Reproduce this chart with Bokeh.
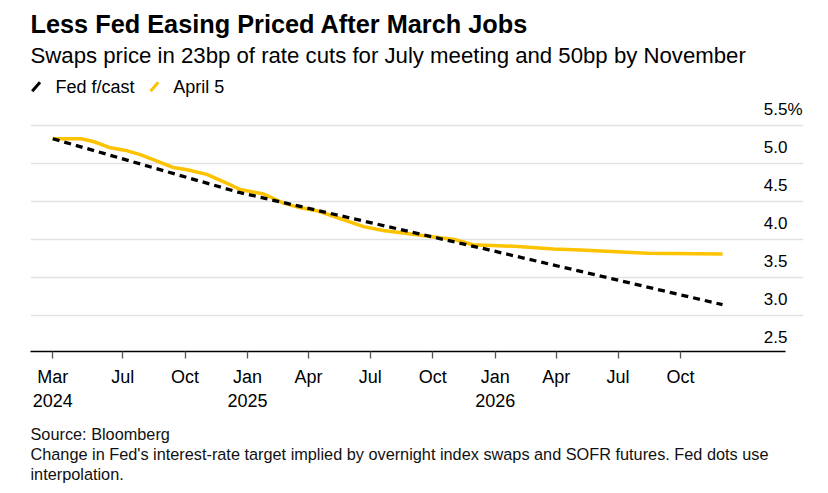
import pandas as pd
from bokeh.plotting import figure
from bokeh.core.properties import value
from bokeh.models import (Range1d, FixedTicker, Grid, Label, LabelSet, Title, Arrow,
                          ColumnDataSource)
from bokeh.embed import file_html
from bokeh.resources import INLINE

# ---------------- data ----------------
title_text = "Less Fed Easing Priced After March Jobs"
subtitle_text = "Swaps price in 23bp of rate cuts for July meeting and 50bp by November"
source_text = "Source: Bloomberg"
note_lines = [
    "Change in Fed's interest-rate target implied by overnight index swaps and SOFR futures. Fed dots use",
    "interpolation.",
]

fed_dates = ["2024-03-20", "2024-12-18", "2025-12-17", "2026-12-02"]
fed_values = [5.33, 4.625, 3.875, 3.14]

april5_dates = [
    "2024-03-20", "2024-05-01", "2024-05-20", "2024-06-13", "2024-07-08",
    "2024-07-27", "2024-08-16", "2024-09-14", "2024-10-04", "2024-11-02",
    "2024-12-02", "2024-12-21", "2025-01-25", "2025-02-23", "2025-03-15",
    "2025-04-13", "2025-05-13", "2025-06-21", "2025-07-20", "2025-08-24",
    "2025-09-27", "2025-11-02", "2025-11-29", "2026-01-29", "2026-03-28",
    "2026-05-07", "2026-08-13", "2026-12-02",
]
april5_values = [
    5.33, 5.33, 5.29, 5.21, 5.17,
    5.12, 5.05, 4.95, 4.92, 4.86,
    4.74, 4.66, 4.60, 4.48, 4.43,
    4.38, 4.29, 4.17, 4.12, 4.08,
    4.04, 4.00, 3.93, 3.91, 3.875,
    3.86, 3.82, 3.81,
]

x_tick_dates = ["2024-03-20", "2024-07-01", "2024-10-01", "2025-01-01",
                "2025-04-01", "2025-07-01", "2025-10-01", "2026-01-01",
                "2026-04-01", "2026-07-01", "2026-10-01"]
x_tick_labels = ["Mar\n2024", "Jul", "Oct", "Jan\n2025", "Apr", "Jul", "Oct",
                 "Jan\n2026", "Apr", "Jul", "Oct"]

y_ticks = [2.5, 3.0, 3.5, 4.0, 4.5, 5.0, 5.5]
y_tick_labels = ["2.5", "3.0", "3.5", "4.0", "4.5", "5.0", "5.5"]
y_unit = "%"

series_names = ["Fed f/cast", "April 5"]

# ---------------- styles ----------------
FONT = "Liberation Sans"
YELLOW = "#FDC300"
BLACK = "#000000"
series_colors = [BLACK, YELLOW]

X_START = pd.Timestamp("2024-02-16 05:00")
X_END = pd.Timestamp("2027-03-31 07:00")
AXIS_END = pd.Timestamp("2027-03-04 19:00")

fed_src = ColumnDataSource(dict(x=pd.to_datetime(fed_dates), y=fed_values))
apr_src = ColumnDataSource(dict(x=pd.to_datetime(april5_dates), y=april5_values))

p = figure(width=820, height=492, x_axis_type="datetime", y_axis_location=None,
           output_backend="svg", toolbar_location=None,
           x_range=Range1d(X_START, X_END),
           y_range=Range1d(2.522, 7.154),
           min_border_left=30, min_border_right=17, min_border_top=0, min_border_bottom=140)
p.outline_line_color = None
p.background_fill_color = "white"
p.border_fill_color = "white"
p.xgrid.visible = False
for g in p.ygrid:
    g.visible = False

grid = Grid(dimension=1, ticker=FixedTicker(ticks=y_ticks),
            grid_line_color="#e2e2e2", grid_line_width=1.5)
p.add_layout(grid)

# x axis
tick_ms = [pd.Timestamp(d).value / 1e6 for d in x_tick_dates]
ax = p.xaxis[0]
ax.ticker = FixedTicker(ticks=tick_ms)
ax.major_label_overrides = {t: lab for t, lab in zip(tick_ms, x_tick_labels)}
ax.bounds = (X_START.value / 1e6, AXIS_END.value / 1e6)
ax.axis_line_color = BLACK
ax.axis_line_width = 1.5
ax.major_tick_line_color = "#555555"
ax.major_tick_line_width = 1.3
ax.major_tick_out = 7
ax.major_tick_in = 0
ax.minor_tick_out = 0
ax.minor_tick_in = 0
ax.major_label_standoff = 8
ax.major_label_text_font = FONT
ax.major_label_text_font_size = "18px"
ax.major_label_text_color = BLACK

# lines
p.line("x", "y", source=apr_src, line_color=YELLOW, line_width=3.5, line_join="round")
p.line("x", "y", source=fed_src, line_color=BLACK, line_width=3.3, line_dash="7 5")

# legend: slanted swatches + labels (screen units relative to frame, y up)
legend_swatch_x = [1.7, 120.0]
legend_text_x = [25.0, 142.7]
for name, col, sx, tx in zip(series_names, series_colors, legend_swatch_x, legend_text_x):
    p.add_layout(Arrow(x_start=sx, y_start=260.3, x_end=sx + 7.8, y_end=269.3,
                       start_units="screen", end_units="screen", start=None, end=None,
                       line_color=col, line_width=3))
    p.add_layout(Label(x=tx, y=264.3, x_units="screen", y_units="screen", text=name,
                       text_font=FONT, text_font_size="18px", text_color=BLACK,
                       text_baseline="alphabetic"))

# y tick labels inside plot on the right
ylab_src = ColumnDataSource(dict(y=[v + 0.217 for v in y_ticks], text=y_tick_labels))
ylabels = LabelSet(x=757, x_units="screen", y="y", text="text", source=ylab_src,
                   text_align="right", text_baseline="middle",
                   text_font=value(FONT), text_font_size="17px", text_color=BLACK)
p.add_layout(ylabels)
p.add_layout(Label(x=757, x_units="screen", y=y_ticks[-1] + 0.217, text=y_unit,
                   text_align="left", text_baseline="middle",
                   text_font=FONT, text_font_size="17px", text_color=BLACK))

# title and subtitle (screen units relative to plot frame, y up)
p.add_layout(Label(x=0, y=327.7, x_units="screen", y_units="screen", text=title_text,
                   text_font=FONT, text_font_style="bold", text_font_size="25.3px",
                   text_color=BLACK, text_baseline="alphabetic"))
p.add_layout(Label(x=0, y=296.3, x_units="screen", y_units="screen", text=subtitle_text,
                   text_font=FONT, text_font_size="22.2px",
                   text_color=BLACK, text_baseline="alphabetic"))

# footer below the axis
footer = Title(text="\n".join([source_text] + note_lines), align="left",
               text_font=FONT, text_font_size="16.3px", text_font_style="normal",
               text_color="#111111", text_line_height=1.1, standoff=19, offset=0)
p.add_layout(footer, "below")

open("out.html", "w").write(file_html(p, INLINE))
